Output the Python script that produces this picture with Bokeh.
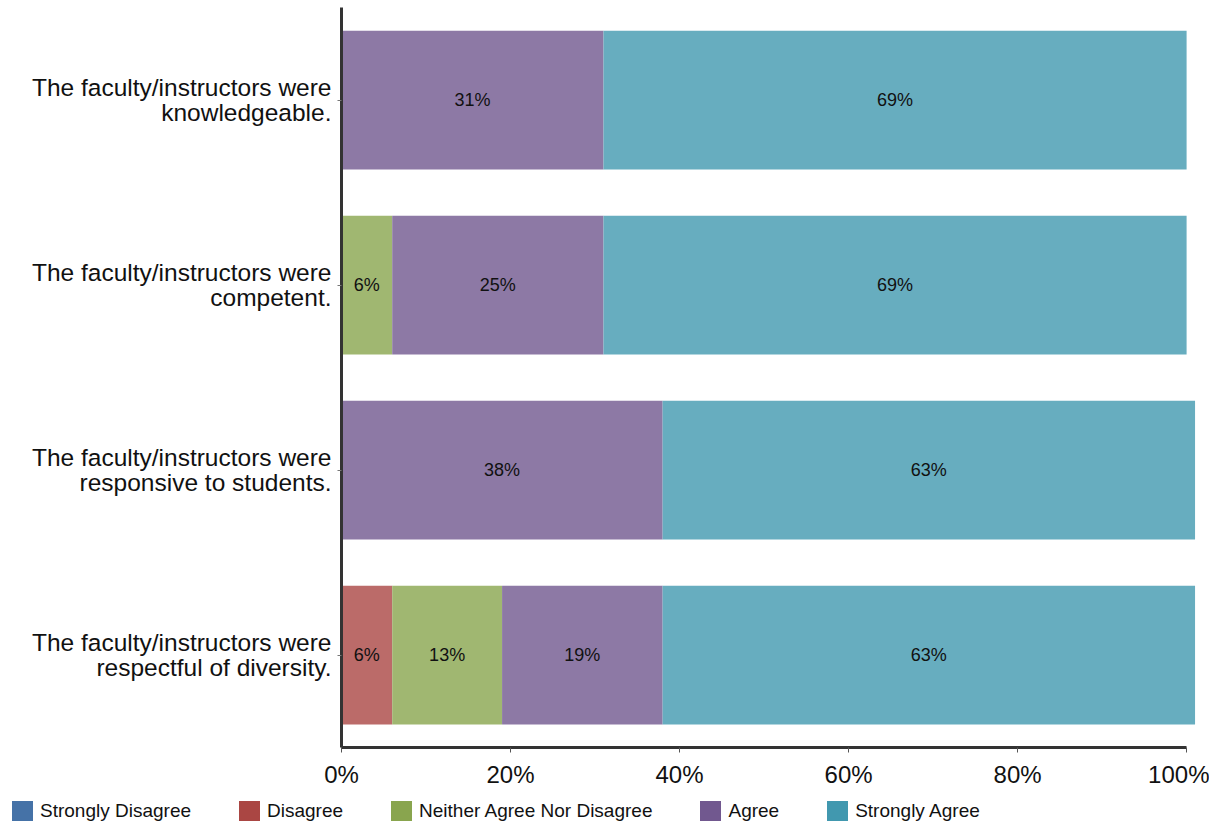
from bokeh.plotting import figure
from bokeh.layouts import column
from bokeh.models import (FactorRange, Range1d, ColumnDataSource, FixedTicker,
                          PrintfTickFormatter, Div)
from bokeh.core.properties import value
from bokeh.embed import file_html
from bokeh.resources import INLINE

statements = [
    "The faculty/instructors were\nknowledgeable.",
    "The faculty/instructors were\ncompetent.",
    "The faculty/instructors were\nresponsive to students.",
    "The faculty/instructors were\nrespectful of diversity.",
]
series = ["Strongly Disagree", "Disagree", "Neither Agree Nor Disagree", "Agree", "Strongly Agree"]
strongly_disagree = [0, 0, 0, 0]
disagree = [0, 0, 0, 6]
neither = [0, 6, 0, 13]
agree = [31, 25, 38, 19]
strongly_agree = [69, 69, 63, 63]
x_ticks = [0, 20, 40, 60, 80, 100]

legend_colors = ["#4572A7", "#AA4643", "#89A54E", "#71588F", "#4198AF"]
bar_colors = ["#6A8EB9", "#BB6B69", "#A0B771", "#8D79A5", "#67ADBF"]

FONT = "Liberation Sans"

keys = ["sd", "d", "n", "a", "sa"]
values_list = [strongly_disagree, disagree, neither, agree, strongly_agree]
src = ColumnDataSource(dict(cat=statements, **{k: v for k, v in zip(keys, values_list)}))

p = figure(y_range=FactorRange(factors=statements[::-1]), x_range=Range1d(0, 102),
           frame_width=862, frame_height=740, output_backend="svg", toolbar_location=None,
           min_border_left=341, min_border_top=7, min_border_right=6, min_border_bottom=46)

p.hbar_stack(keys, y="cat", height=0.75, color=bar_colors, line_color=None, source=src)

# segment labels
lx, ly, lt = [], [], []
for i, cat in enumerate(statements):
    left = 0
    for vals in values_list:
        v = vals[i]
        if v > 0:
            lx.append(left + v / 2)
            ly.append(cat)
            lt.append(f"{v}%")
        left += v
p.text(x=lx, y=ly, text=lt, text_align="center", text_baseline="middle",
       text_font=value(FONT), text_font_size="18px", text_color="#111111")

p.xgrid.visible = False
p.ygrid.visible = False
p.outline_line_color = None

p.xaxis.ticker = FixedTicker(ticks=x_ticks)
p.xaxis.formatter = PrintfTickFormatter(format="%d%%")
p.xaxis.bounds = (0, 100)
p.xaxis.major_label_text_font_size = "24px"
p.xaxis.major_label_text_font = FONT
p.xaxis.major_label_text_color = "#111111"
p.xaxis.axis_line_width = 3
p.xaxis.axis_line_color = "#333333"
p.xaxis.major_tick_out = 5
p.xaxis.major_tick_in = 0
p.xaxis.major_tick_line_color = "#555555"
p.xaxis.minor_tick_out = 0
p.xaxis.minor_tick_in = 0
p.xaxis.major_label_standoff = 8

p.yaxis.major_label_text_font_size = "24.5px"
p.yaxis.major_label_text_font = FONT
p.yaxis.major_label_text_color = "#111111"
p.yaxis.major_label_text_line_height = 0.92
p.yaxis.axis_line_width = 3
p.yaxis.axis_line_color = "#333333"
p.yaxis.major_tick_out = 4
p.yaxis.major_tick_in = 0
p.yaxis.major_tick_line_color = "#777777"
p.yaxis.major_label_standoff = 6

# legend strip (HTML), items flowing left to right
item_html = "".join(
    f'<div style="display:flex;align-items:center;margin-right:48px;">'
    f'<span style="display:inline-block;width:21px;height:20px;background:{col};margin-right:7px;"></span>'
    f'<span>{name}</span></div>'
    for name, col in zip(series, legend_colors)
)
legend_div = Div(
    text=(f'<div style="display:flex;align-items:center;padding-left:12px;padding-top:4px;'
          f'font-family:\'{FONT}\';font-size:19px;color:#111111;white-space:nowrap;">'
          f'{item_html}</div>'),
    width=1209, height=27, margin=0,
)

open("out.html", "w").write(file_html(column(p, legend_div), INLINE))
